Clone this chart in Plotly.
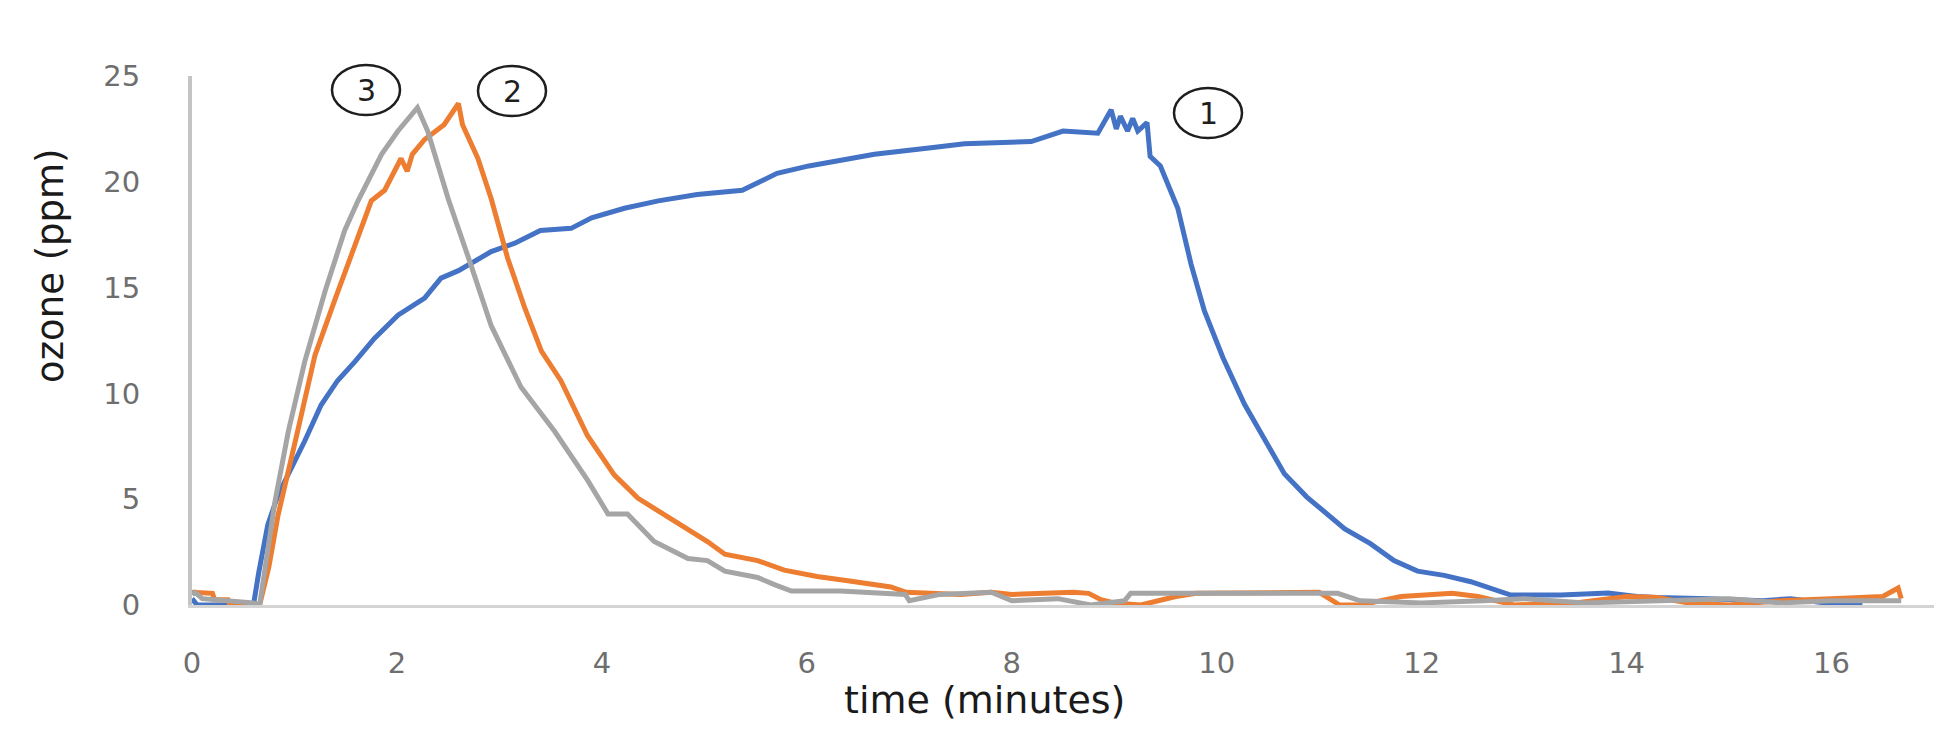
import plotly.graph_objects as go

# ---- data ----
t_1 = [0, 0.05, 0.1, 0.6, 0.65, 0.74, 0.84, 0.94, 1.02, 1.1, 1.26, 1.42, 1.59, 1.78, 2.01,
       2.27, 2.43, 2.6, 2.92, 3.15, 3.4, 3.7, 3.9, 4.22, 4.55, 4.93, 5.37, 5.71, 6.02, 6.66,
       7.19, 7.54, 8.19, 8.5, 8.84, 8.97, 9.02, 9.06, 9.13, 9.18, 9.23, 9.32, 9.35, 9.45, 9.62,
       9.75, 9.88, 10.06, 10.27, 10.5, 10.66, 10.88, 11.06, 11.25, 11.5, 11.73, 11.96, 12.22, 12.48,
       12.71, 12.87, 13.36, 13.82, 14.1, 14.3, 14.8, 15.33, 15.6, 16.1, 16.3]
ozone_1 = [0.3, 0.0, 0.0, 0.0, 1.5, 3.8, 5.2, 6.15, 7.0, 7.75, 9.45, 10.6, 11.5, 12.6, 13.7,
           14.5, 15.45, 15.8, 16.7, 17.1, 17.7, 17.8, 18.3, 18.75, 19.1, 19.4, 19.6, 20.4, 20.75, 21.3,
           21.6, 21.8, 21.9, 22.4, 22.3, 23.4, 22.5, 23.1, 22.4, 23.0, 22.4, 22.8, 21.2, 20.75, 18.75,
           16.1, 13.9, 11.7, 9.5, 7.5, 6.2, 5.1, 4.4, 3.6, 2.9, 2.1, 1.6, 1.4, 1.1,
           0.7, 0.47, 0.47, 0.57, 0.4, 0.35, 0.3, 0.2, 0.3, 0.0, 0.1]

t_2 = [0, 0.2, 0.22, 0.35, 0.37, 0.66, 0.75, 0.84, 1.03, 1.2, 1.4, 1.59, 1.75, 1.88, 2.04,
       2.1, 2.15, 2.27, 2.46, 2.6, 2.64, 2.79, 2.92, 3.08, 3.25, 3.41, 3.6, 3.86, 4.12, 4.35,
       4.67, 5.03, 5.2, 5.52, 5.78, 6.1, 6.4, 6.82, 6.97, 7.5, 7.8, 8.0, 8.6, 8.75, 8.87,
       9.0, 9.26, 9.6, 9.8, 11.0, 11.2, 11.4, 11.8, 12.3, 12.55, 12.9, 13.5, 14.0, 14.3, 14.6,
       15.0, 15.5, 16.0, 16.5, 16.65, 16.68]
ozone_2 = [0.6, 0.55, 0.25, 0.25, 0.0, 0.0, 1.8, 4.25, 8.2, 11.8, 14.5, 17.0, 19.1, 19.6, 21.1,
           20.5, 21.3, 22.0, 22.7, 23.7, 22.7, 21.1, 19.2, 16.4, 14.0, 12.0, 10.6, 8.0, 6.15, 5.05,
           4.1, 3.0, 2.4, 2.1, 1.65, 1.35, 1.15, 0.85, 0.6, 0.5, 0.6, 0.5, 0.6, 0.55, 0.25,
           0.1, 0.0, 0.4, 0.55, 0.6, 0.0, 0.0, 0.4, 0.55, 0.4, 0.0, 0.1, 0.4, 0.35, 0.1,
           0.0, 0.2, 0.3, 0.4, 0.8, 0.3]

t_3 = [0, 0.03, 0.1, 0.3, 0.6, 0.66, 0.81, 0.94, 1.1, 1.3, 1.49, 1.62, 1.85, 2.01, 2.18,
       2.2, 2.3, 2.5, 2.72, 2.92, 3.21, 3.54, 3.86, 4.06, 4.25, 4.51, 4.84, 5.03, 5.2, 5.52,
       5.69, 5.85, 6.33, 6.96, 7.0, 7.3, 7.8, 8.0, 8.45, 8.77, 9.1, 9.16, 9.6, 11.18, 11.4,
       12.0, 12.6, 13.0, 13.6, 14.3, 15.0, 15.5, 16.0, 16.68]
ozone_3 = [0.5, 0.6, 0.3, 0.2, 0.1, 0.0, 4.9, 8.2, 11.5, 14.85, 17.7, 19.1, 21.3, 22.4, 23.4,
           23.5, 22.4, 19.2, 16.1, 13.2, 10.3, 8.2, 5.9, 4.3, 4.3, 3.0, 2.2, 2.1, 1.6, 1.3,
           0.95, 0.66, 0.66, 0.5, 0.2, 0.5, 0.6, 0.2, 0.3, 0.0, 0.2, 0.55, 0.55, 0.55, 0.2,
           0.1, 0.2, 0.3, 0.1, 0.2, 0.3, 0.1, 0.2, 0.2]

x_ticks = [0, 2, 4, 6, 8, 10, 12, 14, 16]
y_ticks = [0, 5, 10, 15, 20, 25]
x_title = "time (minutes)"
y_title = "ozone (ppm)"
run_labels = ["1", "2", "3"]

series = [
    (t_1, ozone_1, "#4472C4"),
    (t_2, ozone_2, "#ED7D31"),
    (t_3, ozone_3, "#A5A5A5"),
]

fig = go.Figure()
for tx, oz, col in series:
    fig.add_trace(go.Scatter(x=tx, y=oz, mode="lines",
                             line=dict(color=col, width=5), showlegend=False))

W, H = 1957, 730
L, R, T, B = 184, 31, 68, 133
pw, ph = W - L - R, H - T - B


def px_x(p):
    return (p - L) / pw


def px_y(p):
    return (H - B - p) / ph


# circled run labels (centre in px, ellipse size)
circles = [(1200, 105), (504, 83), (358, 82)]
shapes = []
annotations = []
for (cx, cy), lab in zip(circles, run_labels):
    shapes.append(dict(type="circle", xref="paper", yref="paper",
                       x0=px_x(cx - 34), x1=px_x(cx + 34),
                       y0=px_y(cy + 25), y1=px_y(cy - 25),
                       line=dict(color="#1e1e1e", width=2.5)))
    annotations.append(dict(text=lab, xref="paper", yref="paper",
                            x=px_x(cx), y=px_y(cy), xanchor="center", yanchor="middle",
                            showarrow=False,
                            font=dict(family="DejaVu Sans", size=30, color="#1e1e1e")))

annotations.append(dict(text=x_title, xref="paper", yref="paper",
                        x=px_x(976), y=px_y(692), xanchor="center", yanchor="middle",
                        showarrow=False,
                        font=dict(family="DejaVu Sans", size=38, color="#1a1a1a")))
annotations.append(dict(text=y_title, xref="paper", yref="paper",
                        x=px_x(42), y=px_y(258), xanchor="center", yanchor="middle",
                        textangle=-90, showarrow=False,
                        font=dict(family="DejaVu Sans", size=37, color="#1a1a1a")))

fig.update_layout(
    width=W, height=H,
    margin=dict(l=L, r=R, t=T, b=B),
    paper_bgcolor="white", plot_bgcolor="white",
    shapes=shapes, annotations=annotations,
    xaxis=dict(range=[0, 17], tickvals=x_ticks, showgrid=False, zeroline=False,
               showline=True, linecolor="#d4d4d4", linewidth=2.5,
               ticks="", ticklabelstandoff=30,
               tickfont=dict(family="DejaVu Sans", size=29, color="#6e6e6e")),
    yaxis=dict(range=[0, 25], tickvals=y_ticks, showgrid=False, zeroline=False,
               showline=True, linecolor="#c4c4c4", linewidth=4,
               ticks="", ticklabelstandoff=42,
               tickfont=dict(family="DejaVu Sans", size=29, color="#6e6e6e")),
)

fig.write_html("out.html")
